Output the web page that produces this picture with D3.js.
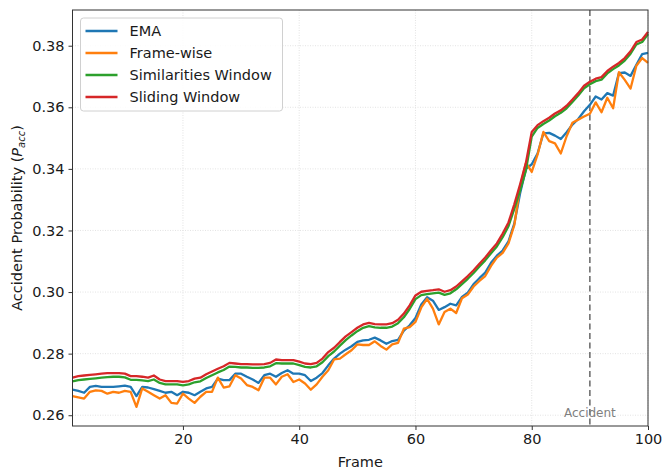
<!DOCTYPE html>
<html>
<head>
<meta charset="utf-8">
<script src="https://cdn.jsdelivr.net/npm/d3@7"></script>
<style>
  body { margin: 0; background: #fff; }
  svg { font-family: "DejaVu Sans", sans-serif; }
</style>
</head>
<body>
<svg id="drawing_region"></svg>
<script>
// frames 1..100
var frames = d3.range(1, 101);

var ema = [
  0.2683, 0.2679, 0.2673, 0.2692, 0.2695, 0.2692, 0.2692, 0.2692, 0.2694, 0.2696,
  0.2692, 0.2662, 0.2692, 0.2690, 0.2685, 0.2679, 0.2673, 0.2676, 0.2665, 0.2676,
  0.2673, 0.2665, 0.2676, 0.2687, 0.2692, 0.2719, 0.2714, 0.2714, 0.2735, 0.2735,
  0.2725, 0.2716, 0.2705, 0.2730, 0.2735, 0.2725, 0.2737, 0.2746, 0.2735, 0.2735,
  0.2730, 0.2711, 0.2722, 0.2737, 0.2762, 0.2784, 0.2800, 0.2813, 0.2824, 0.2838,
  0.2843, 0.2845, 0.2852, 0.2843, 0.2832, 0.2841, 0.2845, 0.2875, 0.2892, 0.2916,
  0.2960, 0.2983, 0.2972, 0.2942, 0.2951, 0.2962, 0.2957, 0.2984, 0.2998, 0.3026,
  0.3045, 0.3063, 0.3095, 0.3118, 0.3135, 0.3165, 0.3222, 0.3321, 0.3400, 0.3415,
  0.3450, 0.3515, 0.3517, 0.3508, 0.3497, 0.3519, 0.3544, 0.3562, 0.3587, 0.3608,
  0.3635, 0.3625, 0.3646, 0.3638, 0.3711, 0.3713, 0.3702, 0.3738, 0.3773, 0.3777
];

var frameWise = [
  0.2662, 0.2658, 0.2654, 0.2676, 0.2681, 0.2679, 0.2670, 0.2676, 0.2673, 0.2679,
  0.2676, 0.2627, 0.2687, 0.2676, 0.2665, 0.2654, 0.2665, 0.2640, 0.2638, 0.2670,
  0.2654, 0.2640, 0.2660, 0.2676, 0.2676, 0.2722, 0.2690, 0.2694, 0.2730, 0.2719,
  0.2698, 0.2692, 0.2681, 0.2722, 0.2722, 0.2700, 0.2725, 0.2733, 0.2708, 0.2716,
  0.2703, 0.2683, 0.2700, 0.2725, 0.2746, 0.2781, 0.2784, 0.2798, 0.2811, 0.2830,
  0.2828, 0.2828, 0.2840, 0.2825, 0.2813, 0.2830, 0.2835, 0.2881, 0.2886, 0.2903,
  0.2950, 0.2978, 0.2946, 0.2895, 0.2935, 0.2946, 0.2932, 0.2980, 0.2992, 0.3018,
  0.3036, 0.3052, 0.3085, 0.3112, 0.3127, 0.3158, 0.3217, 0.3342, 0.3420, 0.3390,
  0.3446, 0.3520, 0.3490, 0.3483, 0.3450, 0.3506, 0.3550, 0.3560, 0.3570, 0.3579,
  0.3616, 0.3584, 0.3631, 0.3597, 0.3714, 0.3689, 0.3661, 0.3735, 0.3760, 0.3744
];

var simWindow = [
  0.2710, 0.2714, 0.2716, 0.2718, 0.2720, 0.2722, 0.2724, 0.2725, 0.2725, 0.2723,
  0.2715, 0.2715, 0.2713, 0.2711, 0.2716, 0.2705, 0.2700, 0.2700, 0.2700, 0.2697,
  0.2700, 0.2707, 0.2710, 0.2721, 0.2730, 0.2739, 0.2747, 0.2758, 0.2757, 0.2755,
  0.2755, 0.2754, 0.2754, 0.2755, 0.2759, 0.2769, 0.2768, 0.2768, 0.2768, 0.2763,
  0.2757, 0.2755, 0.2759, 0.2772, 0.2792, 0.2807, 0.2826, 0.2844, 0.2859, 0.2873,
  0.2884, 0.2889, 0.2885, 0.2884, 0.2884, 0.2888, 0.2899, 0.2918, 0.2945, 0.2977,
  0.2990, 0.2993, 0.2996, 0.2998, 0.2991, 0.2996, 0.3009, 0.3026, 0.3043, 0.3062,
  0.3083, 0.3103, 0.3126, 0.3148, 0.3178, 0.3214, 0.3270, 0.3330, 0.3395, 0.3505,
  0.3533, 0.3546, 0.3557, 0.3571, 0.3582, 0.3597, 0.3617, 0.3638, 0.3662, 0.3675,
  0.3685, 0.3690, 0.3710, 0.3724, 0.3736, 0.3752, 0.3774, 0.3804, 0.3812, 0.3838
];

var slidingWindow = [
  0.2722, 0.2727, 0.2729, 0.2731, 0.2733, 0.2735, 0.2737, 0.2737, 0.2737, 0.2735,
  0.2727, 0.2727, 0.2725, 0.2722, 0.2729, 0.2716, 0.2711, 0.2711, 0.2711, 0.2708,
  0.2711, 0.2719, 0.2722, 0.2733, 0.2742, 0.2751, 0.2759, 0.2770, 0.2768, 0.2766,
  0.2766, 0.2765, 0.2765, 0.2766, 0.2770, 0.2781, 0.2779, 0.2779, 0.2779, 0.2774,
  0.2768, 0.2766, 0.2770, 0.2784, 0.2805, 0.2819, 0.2838, 0.2856, 0.2870, 0.2884,
  0.2895, 0.2900, 0.2896, 0.2895, 0.2895, 0.2899, 0.2910, 0.2930, 0.2957, 0.2989,
  0.3001, 0.3004, 0.3006, 0.3009, 0.3001, 0.3006, 0.3018, 0.3035, 0.3052, 0.3071,
  0.3092, 0.3112, 0.3136, 0.3158, 0.3190, 0.3226, 0.3285, 0.3350, 0.3420, 0.3520,
  0.3542, 0.3555, 0.3566, 0.3580, 0.3590, 0.3605, 0.3625, 0.3646, 0.3670, 0.3683,
  0.3693, 0.3698, 0.3718, 0.3732, 0.3744, 0.3760, 0.3782, 0.3812, 0.3820, 0.3845
];

var seriesNames = ['EMA', 'Frame-wise', 'Similarities Window', 'Sliding Window'];
var seriesColors = ['#1f77b4', '#ff7f0e', '#2ca02c', '#d62728'];
var xTicks = [20, 40, 60, 80, 100];
var yTicks = [0.26, 0.28, 0.30, 0.32, 0.34, 0.36, 0.38];
var accidentFrame = 90;

class LineChart {
  constructor(config, series) {
    this.config = {
      parent: config.parent,
      width: config.width || 256,
      height: config.height || 128,
      margin: config.margin || {top:10, right:10, bottom:10, left:10},
    };
    this.series = series;
    this.init();
  }
  init() {
    this.svg = d3.select(this.config.parent)
      .attr('width', this.config.width)
      .attr('height', this.config.height);
    this.chart = this.svg.append('g')
      .attr('transform', `translate(${this.config.margin.left}, ${this.config.margin.top})`);
    this.inner_width = this.config.width - this.config.margin.left - this.config.margin.right;
    this.inner_height = this.config.height - this.config.margin.top - this.config.margin.bottom;

    this.xscale = d3.scaleLinear()
      .domain([1, 100])
      .range([0, this.inner_width]);
    this.yscale = d3.scaleLinear()
      .domain([0.2565, 0.3916])
      .range([this.inner_height, 0]);

    this.xaxis = d3.axisBottom(this.xscale)
      .tickValues(xTicks)
      .tickFormat(d3.format('d'))
      .tickSize(4).tickPadding(4).tickSizeOuter(0);
    this.yaxis = d3.axisLeft(this.yscale)
      .tickValues(yTicks)
      .tickFormat(d3.format('.2f'))
      .tickSize(4).tickPadding(4).tickSizeOuter(0);
  }
  render() {
    const w = this.inner_width, h = this.inner_height;

    // grid
    this.chart.append('g').selectAll('line.gx')
      .data(xTicks).join('line')
      .attr('x1', d => this.xscale(d)).attr('x2', d => this.xscale(d))
      .attr('y1', 0).attr('y2', h)
      .attr('stroke', '#dcdcdc').attr('stroke-width', 0.8)
      .attr('stroke-dasharray', '1,1.5');
    this.chart.append('g').selectAll('line.gy')
      .data(yTicks).join('line')
      .attr('x1', 0).attr('x2', w)
      .attr('y1', d => this.yscale(d)).attr('y2', d => this.yscale(d))
      .attr('stroke', '#dcdcdc').attr('stroke-width', 0.8)
      .attr('stroke-dasharray', '1,1.5');

    // accident marker
    const ax = this.xscale(accidentFrame);
    this.chart.append('line')
      .attr('x1', ax).attr('x2', ax).attr('y1', 0).attr('y2', h)
      .attr('stroke', '#666').attr('stroke-width', 1.5)
      .attr('stroke-dasharray', '6,3.5');
    this.chart.append('text')
      .attr('x', ax).attr('y', h - 9)
      .attr('text-anchor', 'middle')
      .attr('font-size', 12).attr('fill', '#808080')
      .text('Accident');

    // lines
    const line = d3.line()
      .x((d, i) => this.xscale(frames[i]))
      .y(d => this.yscale(d));
    this.chart.append('g').selectAll('path')
      .data(this.series).join('path')
      .attr('d', d => line(d))
      .attr('fill', 'none')
      .attr('stroke', (d, i) => seriesColors[i])
      .attr('stroke-width', 2.3)
      .attr('stroke-linejoin', 'round');

    // frame
    this.chart.append('rect')
      .attr('width', w).attr('height', h)
      .attr('fill', 'none').attr('stroke', '#333').attr('stroke-width', 1);

    const xg = this.chart.append('g')
      .attr('transform', `translate(0, ${h})`)
      .call(this.xaxis);
    const yg = this.chart.append('g').call(this.yaxis);
    [xg, yg].forEach(g => {
      g.select('.domain').remove();
      g.selectAll('text').attr('font-size', 14.5).attr('fill', '#1a1a1a')
        .attr('font-family', '"DejaVu Sans", sans-serif');
      g.selectAll('line').attr('stroke', '#333');
    });

    // axis labels
    this.svg.append('text')
      .attr('x', this.config.margin.left + w / 2).attr('y', 467)
      .attr('text-anchor', 'middle').attr('font-size', 14.5).attr('fill', '#1a1a1a')
      .text('Frame');
    const yl = this.svg.append('text')
      .attr('transform', `translate(22, ${this.config.margin.top + h / 2}) rotate(-90)`)
      .attr('text-anchor', 'middle').attr('font-size', 14.5).attr('fill', '#1a1a1a');
    yl.append('tspan').text('Accident Probability (');
    yl.append('tspan').attr('font-style', 'italic').text('P');
    yl.append('tspan').attr('font-style', 'italic').attr('font-size', 10).attr('dy', 3).text('acc');
    yl.append('tspan').attr('dy', -3).text(')');

    // legend
    const lg = this.chart.append('g').attr('transform', 'translate(8, 8)');
    lg.append('rect')
      .attr('width', 202).attr('height', 93).attr('rx', 3)
      .attr('fill', 'white').attr('fill-opacity', 0.85)
      .attr('stroke', '#d0d0d0').attr('stroke-width', 1);
    const items = lg.selectAll('g.item')
      .data(seriesNames).join('g')
      .attr('transform', (d, i) => `translate(0, ${13 + i * 22})`);
    items.append('line')
      .attr('x1', 5).attr('x2', 37)
      .attr('stroke', (d, i) => seriesColors[i]).attr('stroke-width', 2.3);
    items.append('text')
      .attr('x', 49).attr('y', 5)
      .attr('font-size', 14.5).attr('fill', '#1a1a1a')
      .text(d => d);
  }
}

const config = {
  parent: '#drawing_region',
  width: 662,
  height: 469,
  margin: {top:10, right:14, bottom:43, left:72.5}
};
const chart = new LineChart(config, [ema, frameWise, simWindow, slidingWindow]);
chart.render();
</script>
</body>
</html>
